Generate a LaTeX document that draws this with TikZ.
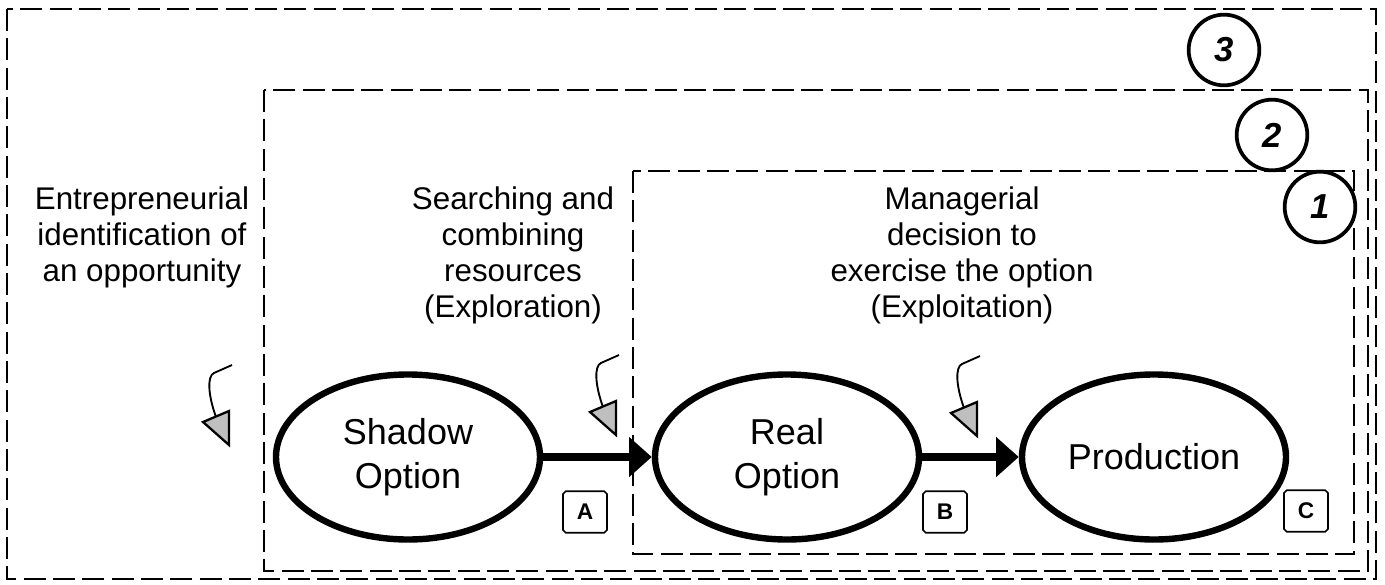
\documentclass[tikz,border=0pt]{standalone}
\usepackage{fontspec}
\setmainfont{Liberation Sans}
\usepackage{tikz}
\usetikzlibrary{arrows.meta}
\usetikzlibrary{shapes.geometric}
\usetikzlibrary{shapes.misc}
\usetikzlibrary{positioning}
\newcommand{\hookarrow}[1]{%
	\begin{scope}[shift={#1}]
		\draw[line width=1.4pt] (3,-80) -- (-15,-72) .. controls (-22,-69) and (-21,-50) .. (-13,-28);
		\draw[line width=1.7pt, fill=black!25, line join=miter] (0,0) -- (-26,-23) -- (0,-34) -- cycle;
	\end{scope}}

\begin{document}
\begin{tikzpicture}[x=0.75pt, y=-0.75pt,
	zone/.style={dash pattern=on 16.5pt off 5.5pt, line width=2.1pt},
	opt/.style={ellipse, draw, line width=4.8pt, minimum width=198pt, minimum height=123.75pt, inner sep=0pt, align=center, font=\fontsize{27}{33}\selectfont},
	tag/.style={chamfered rectangle, chamfered rectangle xsep=1pt, chamfered rectangle ysep=1pt, draw, line width=1.3pt, minimum width=33pt, minimum height=31pt, inner sep=0pt, font=\fontsize{17}{20}\selectfont\bfseries},
	num/.style={circle, draw, fill=white, line width=2.8pt, minimum size=53pt, inner sep=0pt, font=\fontsize{26}{30}\selectfont\bfseries\itshape},
	lbl/.style={align=center, anchor=north, inner sep=0pt, font=\fontsize{23.5}{27}\selectfont},
	flow/.style={line width=6.2pt, -{Triangle[length=17pt, width=29pt]}}]
		\useasboundingbox (0,0) rectangle (1385,585);
		
		%coordinates
		\coordinate (ZthrA) at (7,9);
		\coordinate (ZthrB) at (1376,579);
		\coordinate (ZtwoA) at (264,90);
		\coordinate (ZtwoB) at (1368,571);
		\coordinate (ZoneA) at (633,171);
		\coordinate (ZoneB) at (1354,554);
		
		\draw[zone] (ZthrA) rectangle (ZthrB);
		\draw[zone] (ZtwoA) rectangle (ZtwoB);
		\draw[zone] (ZoneA) rectangle (ZoneB);
		
		%nodes
		\node[num] (three) at (1224,50) {3};
		\node[num] (two) at (1272,135) {2};
		\node[num] (one) at (1320,207) {1};
		
		\node[lbl] (ident) at (142,187) {Entrepreneurial\\identification of\\an opportunity};
		\node[lbl] (search) at (513,187) {Searching and\\combining\\resources\\(Exploration)};
		\node[lbl] (decide) at (962,187) {Managerial\\decision to\\exercise the option\\(Exploitation)};
		
		\node[opt] (shadow) at (408,457) {Shadow\\Option};
		\node[opt] (real) at (787,457) {Real\\Option};
		\node[opt] (prod) at (1154,457) {Production};
		
		\node[tag] (tagA) at (585,512) {A};
		\node[tag] (tagB) at (945,512) {B};
		\node[tag] (tagC) at (1306,511) {C};
		
		\draw[flow] (shadow) -- (real);
		\draw[flow] (real) -- (prod);
		
		\hookarrow{(229,445)}
		\hookarrow{(616,435)}
		\hookarrow{(977,436)}
\end{tikzpicture}
\end{document}
